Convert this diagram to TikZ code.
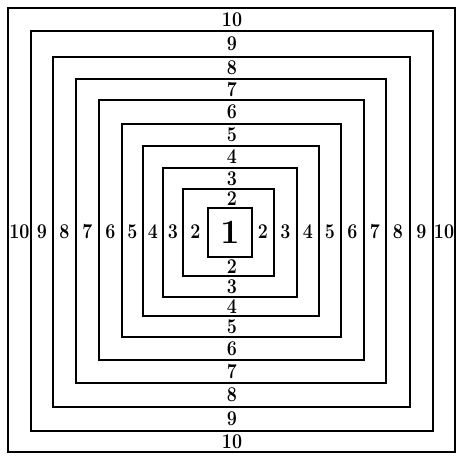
\documentclass[tikz,border=0pt]{standalone}
\usepackage{tikz}

\begin{document}
\begin{tikzpicture}[
  x=1pt, y=-1pt,
  ring/.style={draw=black, line width=1.5pt},
  num/.style={font=\fontsize{21}{21}\selectfont\bfseries, inner sep=0pt, text=black},
  core/.style={font=\fontsize{34}{34}\selectfont\bfseries, inner sep=0pt, text=black}
]
  \useasboundingbox[fill=white] (0,0) rectangle (458,457);

  % concentric squares: number/left/top/right/bottom
  \foreach \n/\l/\t/\r/\b in {1/208/208/252/257, 2/183/189/274/276,
      3/163/168/297/297, 4/143/146/319/316, 5/122/124/341/337,
      6/99/100/364/360, 7/76/79/386/383, 8/53/57/410/407,
      9/31/31/433/431, 10/8/8/455/452}
    \draw[ring] (\l,\t) rectangle (\r,\b);

  \node[core] (one) at (230,232) {1};

  % ring numbers: number/left x/right x/top y/bottom y
  \foreach \n/\xl/\xr/\yt/\yb in {2/195.5/263/198.5/266.5,
      3/173/285.5/178.5/286.5, 4/153/308/157/306.5,
      5/132.5/330/135/326.5, 6/110.5/352.5/112/348.5,
      7/87.5/375/89.5/371.5, 8/64.5/398/68/395,
      9/42/421.5/44/419, 10/19.5/444/19.5/441.5} {
    \node[num, xscale=0.85] (left-\n)   at (\xl,232) {\n};
    \node[num, xscale=0.85] (right-\n)  at (\xr,232) {\n};
    \node[num, xscale=0.85] (top-\n)    at (232,\yt) {\n};
    \node[num, xscale=0.85] (bottom-\n) at (232,\yb) {\n};
  }
\end{tikzpicture}
\end{document}
